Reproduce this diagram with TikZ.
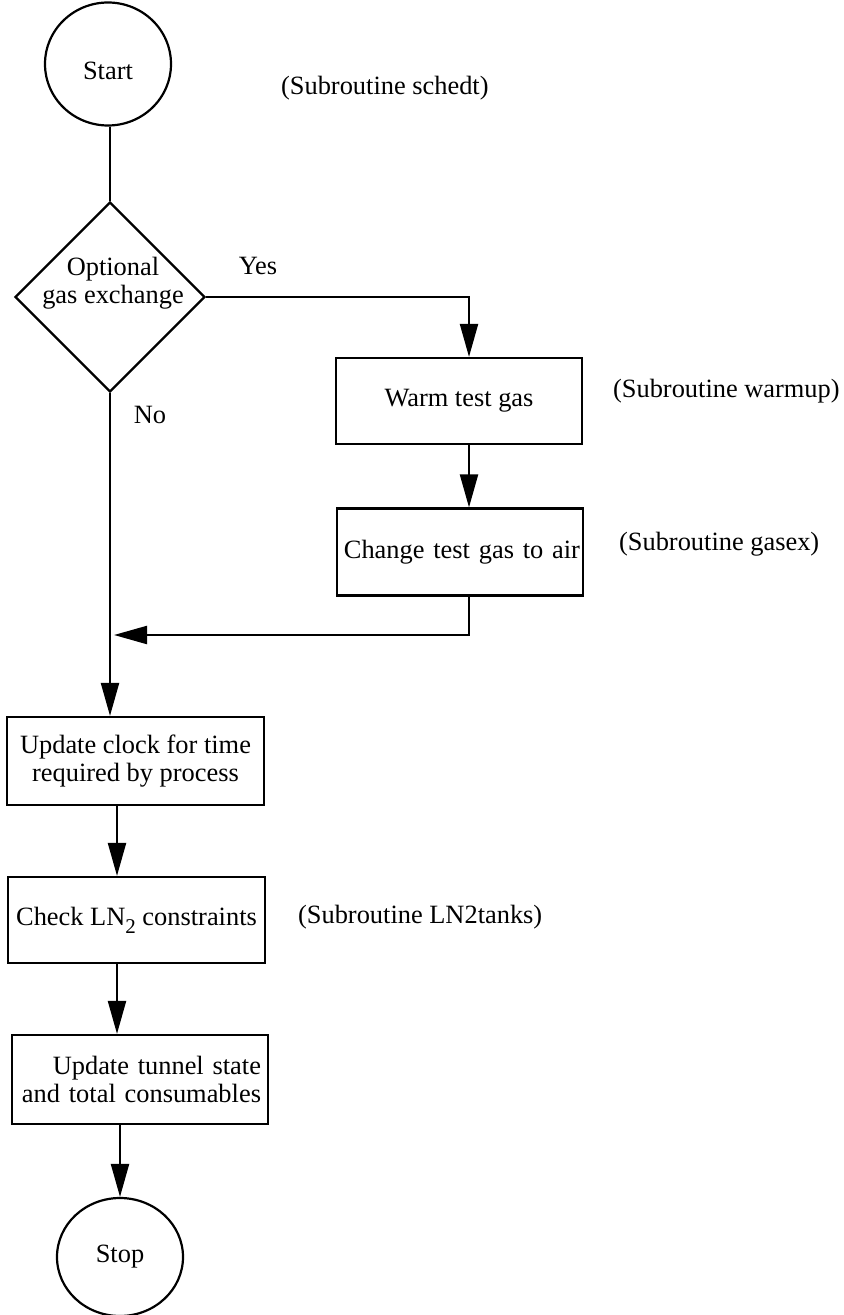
\documentclass[tikz,border=0pt]{standalone}
\usepackage{fontspec}
\setmainfont{Liberation Serif}
\usetikzlibrary{shapes.geometric,arrows.meta}
\begin{document}
\begin{tikzpicture}[x=0.5pt,y=-0.5pt,
  line width=1.1pt,
  every node/.style={font=\fontsize{13.2pt}{14pt}\selectfont},
  terminal/.style={draw,ellipse,inner sep=0pt},
  decision/.style={draw,diamond,inner sep=0pt,minimum width=95pt,minimum height=95pt},
  process/.style={draw,rectangle,inner sep=0pt,align=center},
  note/.style={anchor=west,inner sep=0pt},
  flow/.style={-{Triangle[length=16.5pt,width=9pt]}},
]
\useasboundingbox (0,0) rectangle (843,1315);

% terminals
\node[terminal,minimum width=63pt,minimum height=61.5pt,text height=15.5pt,text depth=0pt]
  (start) at (108,64) {Start};
\node[terminal,minimum width=63pt,minimum height=59pt] (stop) at (120,1257) {Stop};

% decision
\node[decision] (dec) at (110,297) {};
\node[align=center,inner sep=0pt] (dectext) at (113,283) {Optional\\gas exchange};

% process boxes
\node[process,minimum width=123pt,minimum height=43pt] (warm) at (459,401) {Warm test gas};
\node[process,minimum width=123pt,minimum height=43.5pt,text width=120pt,align=right]
  (change) at (460,552) {Change test gas to air};
\node[process,minimum width=128.5pt,minimum height=44pt] (clock) at (135.5,761)
  {Update clock for time\\required by process};
\node[process,minimum width=128.5pt,minimum height=43pt] (check) at (136.5,920)
  {Check LN\raisebox{-4pt}{\fontsize{10.5pt}{10pt}\selectfont 2} constraints};
\node[process,minimum width=128pt,minimum height=44.5pt,text width=121pt,align=right]
  (tunnel) at (140,1079.5) {Update tunnel state\\and total consumables};

% branch labels
\node (yes) at (258,266) {Yes};
\node (no) at (150,415) {No};

% subroutine notes
\node[note] (nschedt) at (280,88) {(Subroutine schedt)};
\node[note] (nwarm) at (612,391) {(Subroutine warmup)};
\node[note] (ngas) at (618,544) {(Subroutine gasex)};
\node[note] (nln2) at (297,917) {(Subroutine LN2tanks)};

% connector columns
\coordinate (rcol) at (469,0);
\coordinate (lcol) at (117,0);
\coordinate (join) at (114,635);

% connectors
\draw (start.south -| dec.north) -- (dec.north);
\draw[flow] (dec.east) -| (warm.north -| rcol);
\draw[flow] (warm.south -| rcol) -- (change.north -| rcol);
\draw[flow] (change.south -| rcol) |- (join);
\draw[flow] (dec.south) -- (clock.north -| dec.south);
\draw[flow] (clock.south -| lcol) -- (check.north -| lcol);
\draw[flow] (check.south -| lcol) -- (tunnel.north -| lcol);
\draw[flow] (tunnel.south -| stop.north) -- (stop.north);
\end{tikzpicture}
\end{document}
